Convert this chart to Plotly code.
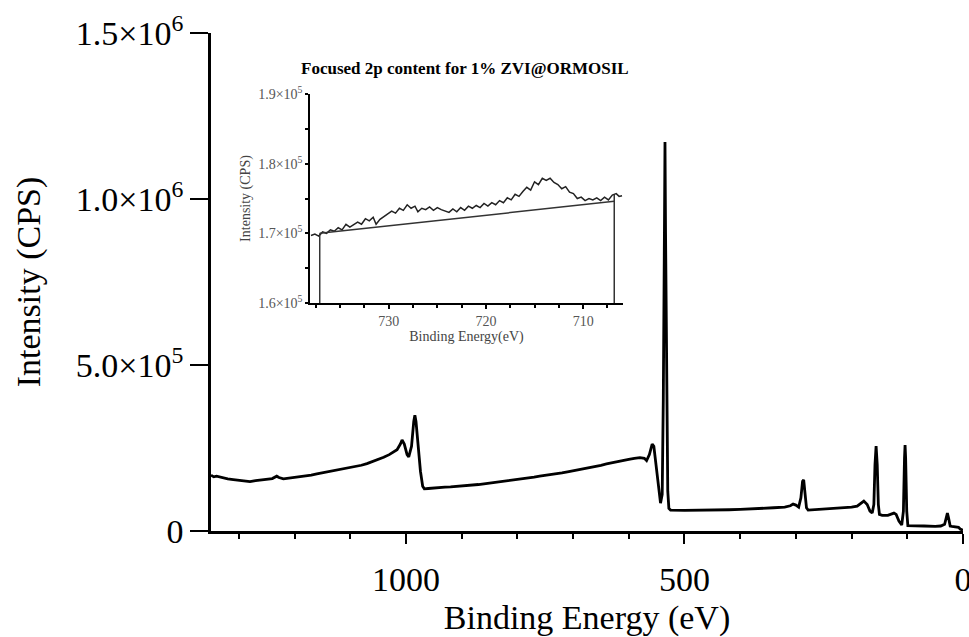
import plotly.graph_objects as go

# ---------------- main survey spectrum ----------------
survey_be = [1350, 1345, 1340, 1330, 1320, 1310, 1300, 1290, 1280, 1270, 1260, 1250, 1240, 1232, 1228,
             1220, 1210, 1200, 1190, 1180, 1170, 1160, 1150, 1140, 1130, 1120, 1110, 1100, 1090, 1080,
             1070, 1060, 1050, 1040, 1030, 1022, 1016, 1010, 1007, 1003, 998, 995, 990, 986, 984, 982,
             978, 974, 970, 967, 960, 950, 940, 930, 920, 910, 900, 890, 880, 870, 860, 850, 840, 830,
             820, 810, 800, 790, 780, 770, 760, 750, 740, 730, 720, 710, 700, 690, 680, 670, 660, 650,
             640, 630, 620, 610, 600, 590, 580, 572, 568, 563, 558, 555, 551, 547, 543, 540, 538, 536,
             535, 534, 532, 530, 528, 525, 500, 480, 460, 440, 420, 400, 380, 360, 340, 320, 310, 305,
             300, 295, 291, 288, 286, 284, 281, 278, 270, 250, 230, 210, 200, 190, 183, 178, 172, 167,
             163, 160, 158, 156, 154, 152, 150, 145, 135, 128, 124, 120, 115, 110, 107, 105, 104, 103,
             101, 99, 90, 70, 50, 40, 33, 30, 28, 26, 23, 20, 15, 11, 8, 5, 2, 0]
survey_cps = [168000, 163000, 165000, 160000, 157000, 155000, 153000, 151000, 149000, 152000, 154000,
              157000, 158000, 165000, 161000, 157000, 159000, 161000, 163000, 166000, 168000, 172000,
              175000, 178000, 181000, 184000, 187000, 190000, 194000, 198000, 203000, 209000, 215000,
              222000, 230000, 240000, 245000, 262000, 274000, 262000, 230000, 223000, 255000, 330000,
              349000, 330000, 250000, 180000, 135000, 127000, 128000, 130000, 131000, 132000, 133000,
              134000, 135000, 137000, 138000, 140000, 142000, 144000, 146000, 148000, 150000, 152000,
              154000, 157000, 159000, 162000, 165000, 167000, 170000, 172000, 175000, 178000, 181000,
              184000, 187000, 190000, 194000, 198000, 202000, 206000, 209000, 212000, 216000, 219000,
              221000, 219000, 212000, 230000, 262000, 255000, 200000, 130000, 84000, 110000, 400000,
              900000, 1172000, 900000, 400000, 120000, 68000, 63000, 62000, 62000, 63000, 63000, 64000,
              65000, 66000, 68000, 70000, 72000, 76000, 81000, 78000, 72000, 100000, 150000, 154000,
              120000, 70000, 63000, 64000, 66000, 68000, 70000, 72000, 75000, 85000, 90000, 80000,
              60000, 54000, 80000, 200000, 256000, 200000, 80000, 50000, 47000, 47000, 50000, 54000,
              50000, 30000, 18000, 60000, 220000, 259000, 220000, 60000, 16000, 15000, 15000, 14000,
              15000, 20000, 40000, 54000, 40000, 15000, 14000, 12000, 10000, 11000, 6000, 3000, 2000]

# ---------------- inset: Fe 2p region ----------------
fe_be = [738.0, 737.6, 737.2, 736.8, 736.4, 736.0, 735.6, 735.2, 734.8, 734.4, 734.0, 733.6, 733.2,
         732.8, 732.4, 732.0, 731.6, 731.3, 730.9, 730.5, 730.1, 729.7, 729.3, 728.9, 728.5, 728.1,
         727.7, 727.3, 727.0, 726.6, 726.2, 725.8, 725.4, 725.0, 724.6, 724.2, 723.8, 723.4, 723.0,
         722.6, 722.2, 721.8, 721.4, 721.0, 720.6, 720.2, 719.8, 719.4, 719.0, 718.6, 718.2, 717.8,
         717.4, 717.0, 716.6, 716.2, 715.8, 715.4, 715.0, 714.6, 714.2, 713.8, 713.4, 713.0, 712.6,
         712.2, 711.8, 711.4, 711.0, 710.6, 710.2, 709.8, 709.4, 709.0, 708.6, 708.2, 707.8, 707.4,
         707.0, 706.6, 706.3, 706.0]
fe_cps = [169700, 169900, 169600, 170200, 170000, 170500, 170300, 170800, 170500, 171300, 170900,
          171200, 171600, 171300, 172100, 171800, 172300, 171300, 172000, 172400, 172800, 173200,
          172900, 173600, 173300, 174100, 173600, 173900, 173100, 173600, 173400, 173800, 173300,
          173700, 173400, 173200, 173000, 173500, 173100, 173700, 173300, 173900, 173600, 174000,
          173700, 174300, 173900, 174400, 174100, 174700, 174400, 175100, 174800, 175600, 175300,
          176000, 176600, 176200, 177400, 177000, 177900, 177600, 177900, 177300, 177000, 176400,
          176700, 175900, 175700, 175000, 175200, 174700, 175000, 174800, 175100, 174700, 175200,
          174800, 175500, 175700, 175300, 175400]

# background line and integration limits
bg_be = [737.1, 706.8]
bg_cps = [170000, 174600]
lim_left_be = [737.1, 737.1]
lim_left_cps = [160000, 170000]
lim_right_be = [706.8, 706.8]
lim_right_cps = [160000, 175500]

main_yticks = [0, 500000, 1000000, 1500000]
main_ytext = ["0", "5.0×10<sup>5</sup>", "1.0×10<sup>6</sup>", "1.5×10<sup>6</sup>"]
main_xticks = [1000, 500, 0]
inset_yticks = [160000, 170000, 180000, 190000]
inset_ytext = ["1.6×10<sup>5</sup>", "1.7×10<sup>5</sup>", "1.8×10<sup>5</sup>", "1.9×10<sup>5</sup>"]
inset_xticks = [730, 720, 710]

SERIF = "Liberation Serif"

fig = go.Figure()
fig.add_trace(go.Scatter(x=survey_be, y=survey_cps, mode="lines",
                         line=dict(color="black", width=2.8), showlegend=False,
                         xaxis="x", yaxis="y"))
fig.add_trace(go.Scatter(x=fe_be, y=fe_cps, mode="lines",
                         line=dict(color="#222222", width=1.5), showlegend=False,
                         xaxis="x2", yaxis="y2"))
for bx, by in [(bg_be, bg_cps), (lim_left_be, lim_left_cps), (lim_right_be, lim_right_cps)]:
    fig.add_trace(go.Scatter(x=bx, y=by, mode="lines",
                             line=dict(color="#333333", width=1.5), showlegend=False,
                             xaxis="x2", yaxis="y2"))

L, R, T, B = 211, 6, 33, 106
W, H = 969, 637
pw, ph = W - L - R, H - T - B

def px_x(p):
    return (p - L) / pw

def px_y(p):
    return (H - B - p) / ph

fig.update_layout(
    width=W, height=H,
    margin=dict(l=L, r=R, t=T, b=B, autoexpand=False),
    paper_bgcolor="white", plot_bgcolor="white",
    font=dict(family=SERIF, color="black"),
    xaxis=dict(
        range=[1350, 0], showline=True, linecolor="black", linewidth=2.5,
        showgrid=False, zeroline=False, automargin=False,
        tickmode="array", tickvals=main_xticks, ticks="outside", ticklen=10, tickwidth=2,
        tickcolor="black", tickfont=dict(family=SERIF, size=34, color="black"),
        ticklabelstandoff=6, ticklabeloverflow="allow",
        minor=dict(dtick=100, tick0=0, ticks="outside", ticklen=5, tickwidth=2, tickcolor="black",
                   showgrid=False),
        title=dict(text="Binding Energy (eV)", font=dict(family=SERIF, size=34, color="black"),
                   standoff=12),
        domain=[0, 1],
    ),
    yaxis=dict(
        range=[0, 1500000], showline=True, linecolor="black", linewidth=2.5,
        showgrid=False, zeroline=False, automargin=False,
        tickmode="array", tickvals=main_yticks, ticktext=main_ytext,
        ticks="outside", ticklen=18, tickwidth=1.5, tickcolor="black",
        tickfont=dict(family=SERIF, size=34, color="black"),
        ticklabelstandoff=0,
        title=dict(text="Intensity (CPS)", font=dict(family=SERIF, size=34, color="black"),
                   standoff=25),
        domain=[0, 1],
    ),
    xaxis2=dict(
        domain=[px_x(310), px_x(623)], anchor="y2",
        range=[738.1, 705.9], showline=True, linecolor="black", linewidth=1.5,
        showgrid=False, zeroline=False, automargin=False,
        tickmode="array", tickvals=inset_xticks, ticks="outside", ticklen=4, tickwidth=1.5,
        tickcolor="black", tickfont=dict(family=SERIF, size=14, color="#555555"),
        minor=dict(dtick=2.5, tick0=0, ticks="outside", ticklen=3, tickwidth=1.5,
                   tickcolor="black", showgrid=False),
        title=dict(text="Binding Energy(eV)", font=dict(family=SERIF, size=14, color="#444444"),
                   standoff=4),
    ),
    yaxis2=dict(
        domain=[px_y(303), px_y(94)], anchor="x2",
        range=[160000, 190000], showline=True, linecolor="black", linewidth=1.5,
        showgrid=False, zeroline=False, automargin=False,
        tickmode="array", tickvals=inset_yticks, ticktext=inset_ytext,
        ticks="outside", ticklen=3, tickwidth=1.5, tickcolor="black",
        tickfont=dict(family=SERIF, size=14, color="#555555"),
        minor=dict(dtick=5000, tick0=0, ticks="outside", ticklen=3, tickwidth=1.5,
                   tickcolor="black", showgrid=False),
        title=dict(text="Intensity (CPS)", font=dict(family=SERIF, size=14, color="#444444"),
                   standoff=4),
    ),
    annotations=[dict(
        text="<b>Focused 2p content for 1% ZVI@ORMOSIL</b>",
        xref="paper", yref="paper", x=px_x(465), y=px_y(68),
        xanchor="center", yanchor="middle", showarrow=False,
        font=dict(family=SERIF, size=17, color="black"),
    )],
)

fig.write_html("out.html")
